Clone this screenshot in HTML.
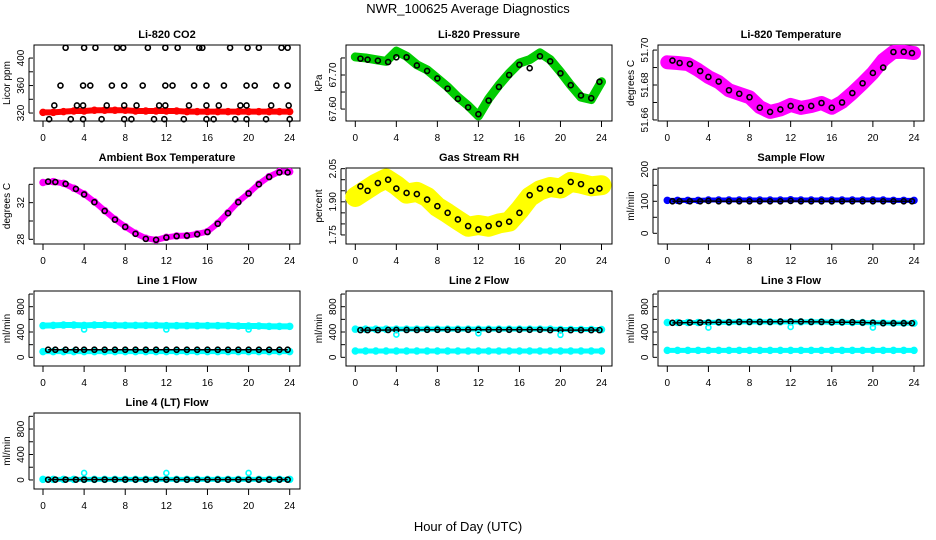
<!DOCTYPE html>
<html><head><meta charset="utf-8">
<style>
html,body{margin:0;padding:0;background:#fff;}
svg{display:block;font-family:"Liberation Sans",sans-serif;}
</style></head>
<body>
<svg id="chart" width="936" height="540" viewBox="0 0 936 540" xmlns="http://www.w3.org/2000/svg">
<rect width="936" height="540" fill="#fff"/>
<text x="468" y="13" text-anchor="middle" font-size="13">NWR_100625  Average Diagnostics</text>
<text x="468" y="531" text-anchor="middle" font-size="13">Hour of Day (UTC)</text>
</svg>
<script>
// ---- data ----
const hours = [0,1,2,3,4,5,6,7,8,9,10,11,12,13,14,15,16,17,18,19,20,21,22,23,24];
const blackHours = [0.5,1.2,2.2,3.2,4,5,6,7,8,9,10,11,12,13,14,15,16,17,18,19,20,21,22,23,23.8];

const co2Red = [321,321,322,323,323,324,324,324,324,323,323,323,323,323,322,322,322,322,322,322,322,322,322,322,322];
const co2BlackHours = [2.2,4.0,5.1,7.2,7.8,10.2,11.9,13.1,15.2,15.5,18.2,19.9,21.0,23.2,23.8,
 1.7,3.9,4.6,6.7,7.9,9.7,11.9,12.6,14.7,15.9,17.6,19.8,20.6,22.7,23.8,
 1.1,3.3,3.9,6.2,7.9,9.1,11.3,11.9,14.2,15.9,17.1,19.2,19.8,22.2,23.9,
 0.6,2.7,3.9,5.7,7.9,8.6,10.8,11.8,13.7,15.9,16.6,18.7,19.8,21.7,24.0];
const co2BlackVals = [415,415,415,415,415,415,415,415,415,415,415,415,415,415,415,
 360,360,360,360,360,360,360,360,360,360,360,360,360,360,360,
 331,331,331,331,331,331,331,331,331,331,331,331,331,331,331,
 311,311,311,311,311,311,311,311,311,311,311,311,311,311,311];

const pressGreen = [67.753,67.75,67.745,67.74,67.77,67.755,67.73,67.715,67.69,67.665,67.635,67.61,67.58,67.63,67.67,67.705,67.735,67.745,67.765,67.745,67.709,67.67,67.635,67.628,67.68];
const pressBlack = [67.748,67.745,67.742,67.738,67.752,67.752,67.728,67.712,67.69,67.66,67.63,67.605,67.585,67.625,67.665,67.7,67.73,67.72,67.755,67.74,67.705,67.67,67.64,67.632,67.68];

const ltempPink = [51.693,51.6926,51.692,51.6886,51.6846,51.6817,51.677,51.675,51.673,51.6674,51.6646,51.666,51.6686,51.6669,51.668,51.6697,51.667,51.6703,51.6754,51.681,51.6869,51.6943,51.6989,51.699,51.6983];
const ltempBlack = [51.694,51.6926,51.692,51.688,51.6846,51.682,51.677,51.675,51.673,51.667,51.6646,51.666,51.668,51.6669,51.668,51.6697,51.667,51.67,51.6754,51.681,51.6869,51.69,51.6989,51.699,51.6983];

const ambPink = [34.2,34.3,34.1,33.57,32.95,32.1,31.13,30.19,29.38,28.66,28.12,27.93,28.22,28.37,28.4,28.59,28.84,29.75,30.9,32.1,33.02,34.04,34.84,35.38,35.38];
const ambBlack = [34.3,34.25,34.05,33.5,32.9,32.05,31.1,30.15,29.35,28.6,28.05,27.95,28.2,28.35,28.4,28.55,28.8,29.7,30.85,32.05,33.0,34.0,34.8,35.3,35.3];

const rhYellow = [1.922,1.952,1.982,2.005,1.975,1.937,1.945,1.922,1.877,1.848,1.817,1.787,1.795,1.787,1.802,1.81,1.862,1.922,1.952,1.967,1.96,1.99,1.982,1.97,1.975];
const rhBlack = [1.97,1.95,1.985,2.0,1.96,1.94,1.935,1.91,1.88,1.85,1.82,1.79,1.775,1.79,1.8,1.81,1.85,1.93,1.96,1.955,1.95,1.99,1.98,1.95,1.96];

const sampleBlue = [103,103,103,103,104,104,104,104,104,104,104,104,105,104,104,104,104,104,104,104,104,104,103,103,103];
const sampleBlack = [100,100,100,100,101,100,100,100,100,100,100,100,101,100,100,100,100,100,100,100,100,100,100,100,100];

const l1CyanHi = [500,505,510,510,505,510,510,505,505,505,505,505,500,500,500,500,500,500,500,495,495,495,490,490,490];
const l1CyanLo = [90,90,90,90,90,90,90,90,90,90,90,90,90,90,90,90,90,90,90,90,90,90,90,90,90];
const l1Black = [120,120,120,120,120,120,120,120,120,120,120,120,120,120,120,120,120,120,120,120,120,120,120,120,120];
const outlierHours = [4,12,20];
const l1Out = [440,440,440];

const l2CyanHi = [445,445,445,445,445,445,445,445,445,445,445,445,445,445,445,445,445,445,445,445,440,440,440,440,440];
const l2CyanLo = [100,100,100,100,100,100,100,100,100,100,100,100,100,100,100,100,100,100,100,100,100,100,100,100,100];
const l2Black = [430,430,430,432,432,432,432,435,435,435,435,435,435,435,435,435,435,435,435,430,430,430,430,430,430];
const l2Out = [360,380,355];

const l3CyanHi = [550,550,550,550,550,555,555,560,560,560,560,560,560,560,560,560,555,555,550,550,545,545,540,540,540];
const l3CyanLo = [110,110,110,110,110,110,110,110,110,110,110,110,110,110,110,110,110,110,110,110,110,110,110,110,110];
const l3Black = [545,545,550,550,550,555,555,560,560,560,560,565,565,565,560,560,555,555,555,550,545,540,540,540,540];
const l3Out = [470,480,470];

const l4Cyan = [10,10,10,10,10,10,10,10,10,10,10,10,10,10,10,10,10,10,10,10,10,10,10,10,10];
const l4Black = [5,5,5,5,5,5,5,5,5,5,5,5,5,5,5,5,5,5,5,5,5,5,5,5,5];
const l4Out = [110,110,110];

const xTicks = [0,4,8,12,16,20,24];

// ---- drawing ----
const NS = "http://www.w3.org/2000/svg";
const svg = document.getElementById('chart');
const cols = [{l:34,r:300,x0:43,x1:289.7},{l:346,r:612,x0:355.3,x1:601.5},{l:658,r:924,x0:667.3,x1:914}];
const rows = [{t:45,b:121},{t:168,b:244},{t:291,b:366},{t:413,b:489}];

function mk(tag, attrs, parent){
  const e = document.createElementNS(NS, tag);
  for (const k in attrs) e.setAttribute(k, attrs[k]);
  (parent||svg).appendChild(e);
  return e;
}

function panel(name, title, col, row, ymin, ymax, yTicks, yLabels, ylab){
  const c = cols[col], r = rows[row];
  const g = mk('g', {});
  
  
  const xs = v => c.x0 + (c.x1 - c.x0) * v / 24;
  const ys = v => r.b - (r.b - r.t) * (v - ymin) / (ymax - ymin);
  const box = mk('rect', {x:c.l, y:r.t, width:c.r-c.l, height:r.b-r.t, fill:'none', stroke:'#000', 'stroke-width':1}, g);
  
  
  const t = mk('text', {x:(c.l+c.r)/2, y:r.t-7, 'text-anchor':'middle', 'font-size':11, 'font-weight':'bold'}, g);
  t.textContent = title;
  
  
  const xa = mk('g', {}, g);
  
  
  xTicks.forEach(v => {
    mk('line', {x1:xs(v), x2:xs(v), y1:r.b, y2:r.b+6, stroke:'#000'}, xa);
    const tl = mk('text', {x:xs(v), y:r.b+20, 'text-anchor':'middle', 'font-size':10}, xa);
    tl.textContent = v;
    
    
  });
  const ya = mk('g', {}, g);
  
  
  mk('line', {x1:c.l-5, x2:c.l-5, y1:ys(yTicks[0]), y2:ys(yTicks[yTicks.length-1]), stroke:'#000'}, ya);
  yTicks.forEach(v => mk('line', {x1:c.l-5, x2:c.l-1, y1:ys(v), y2:ys(v), stroke:'#000'}, ya));
  yLabels.forEach(v => {
    const tl = mk('text', {x:0, y:0, 'text-anchor':'middle', 'font-size':10, transform:`translate(${c.l-10},${ys(v)}) rotate(-90)`}, ya);
    tl.textContent = typeof v === 'number' && v % 1 !== 0 ? v.toFixed(2) : v;
    
    
  });
  const yl = mk('text', {x:0, y:0, 'text-anchor':'middle', 'font-size':10, transform:`translate(${c.l-24},${(r.t+r.b)/2}) rotate(-90)`}, g);
  yl.textContent = ylab;
  
  
  return {g, xs, ys};
}

function band(p, name, xv, yv, color, w){
  const s = mk('g', {}, p.g);
  
  
  const d = xv.map((x,i) => (i ? 'L' : 'M') + p.xs(x) + ',' + p.ys(yv[i])).join(' ');
  mk('path', {d, fill:'none', stroke:color, 'stroke-width':w, 'stroke-linejoin':'round', 'stroke-linecap':'round'}, s);
  xv.forEach((x,i) => {
    const pt = mk('circle', {cx:p.xs(x), cy:p.ys(yv[i]), r:3, fill:'none', stroke:color, 'stroke-width':1.5}, s);
    
    
  });
}
function pts(p, name, xv, yv, color){
  const s = mk('g', {}, p.g);
  
  
  xv.forEach((x,i) => {
    const pt = mk('circle', {cx:p.xs(x), cy:p.ys(yv[i]), r:2.5, fill:'none', stroke:color, 'stroke-width':1.6}, s);
    
    
  });
}
function row(p, name, xv, yv, color){
  const s = mk('g', {}, p.g);
  
  
  const d = xv.map((x,i) => (i ? 'L' : 'M') + p.xs(x) + ',' + p.ys(yv[i])).join(' ');
  mk('path', {d, fill:'none', stroke:color, 'stroke-width':1.5}, s);
  xv.forEach((x,i) => {
    const pt = mk('circle', {cx:p.xs(x), cy:p.ys(yv[i]), r:2.5, fill:'none', stroke:color, 'stroke-width':1.6}, s);
    
    
  });
}

let p;
p = panel('co2', 'Li-820 CO2', 0, 0, 308.4, 419, [320,340,360,380,400], [320,360,400], 'Licor ppm');
band(p, 'co2-red-series', hours, co2Red, '#ff0000', 6);
pts(p, 'co2-black-series', co2BlackHours, co2BlackVals, '#000');

p = panel('pressure', 'Li-820 Pressure', 1, 0, 67.565, 67.788, [67.60,67.65,67.70,67.75], [67.60,67.70], 'kPa');
band(p, 'pressure-green-series', hours, pressGreen, '#00cc00', 9);
pts(p, 'pressure-black-series', blackHours, pressBlack, '#000');

p = panel('licor-temp', 'Li-820 Temperature', 2, 0, 51.6594, 51.7029, [51.66,51.67,51.68,51.69,51.70], [51.66,51.68,51.70], 'degrees C');
band(p, 'licor-temp-pink-series', hours, ltempPink, '#ff00ff', 14);
pts(p, 'licor-temp-black-series', blackHours, ltempBlack, '#000');

p = panel('ambient', 'Ambient Box Temperature', 0, 1, 27.49, 35.78, [28,30,32,34], [28,32], 'degrees C');
band(p, 'ambient-pink-series', hours, ambPink, '#ff00ff', 6);
pts(p, 'ambient-black-series', blackHours, ambBlack, '#000');

p = panel('rh', 'Gas Stream RH', 1, 1, 1.709, 2.053, [1.75,1.80,1.85,1.90,1.95,2.00,2.05], [1.75,1.90,2.05], 'percent');
band(p, 'rh-yellow-series', hours, rhYellow, '#ffff00', 20);
pts(p, 'rh-black-series', blackHours, rhBlack, '#000');

p = panel('sample-flow', 'Sample Flow', 2, 1, -33.4, 204, [0,50,100,150,200], [0,100,200], 'ml/min');
band(p, 'sample-blue-series', hours, sampleBlue, '#0000ff', 5);
row(p, 'sample-black-series', blackHours, sampleBlack, '#000');

p = panel('line1', 'Line 1 Flow', 0, 2, -137, 1048, [0,200,400,600,800,1000], [0,400,800], 'ml/min');
band(p, 'line1-cyan-high', hours, l1CyanHi, '#00ffff', 6);
band(p, 'line1-cyan-low', hours, l1CyanLo, '#00ffff', 5);
row(p, 'line1-black-series', blackHours, l1Black, '#000');
pts(p, 'line1-cyan-outliers', outlierHours, l1Out, '#00ffff');

p = panel('line2', 'Line 2 Flow', 1, 2, -137, 1048, [0,200,400,600,800,1000], [0,400,800], 'ml/min');
band(p, 'line2-cyan-high', hours, l2CyanHi, '#00ffff', 5);
band(p, 'line2-cyan-low', hours, l2CyanLo, '#00ffff', 5);
row(p, 'line2-black-series', blackHours, l2Black, '#000');
pts(p, 'line2-cyan-outliers', outlierHours, l2Out, '#00ffff');

p = panel('line3', 'Line 3 Flow', 2, 2, -137, 1048, [0,200,400,600,800,1000], [0,400,800], 'ml/min');
band(p, 'line3-cyan-high', hours, l3CyanHi, '#00ffff', 5);
band(p, 'line3-cyan-low', hours, l3CyanLo, '#00ffff', 5);
row(p, 'line3-black-series', blackHours, l3Black, '#000');
pts(p, 'line3-cyan-outliers', outlierHours, l3Out, '#00ffff');

p = panel('line4', 'Line 4 (LT) Flow', 0, 3, -142, 1052, [0,200,400,600,800,1000], [0,400,800], 'ml/min');
band(p, 'line4-cyan-series', hours, l4Cyan, '#00ffff', 5);
row(p, 'line4-black-series', blackHours, l4Black, '#000');
pts(p, 'line4-cyan-outliers', outlierHours, l4Out, '#00ffff');
</script>
</body></html>
